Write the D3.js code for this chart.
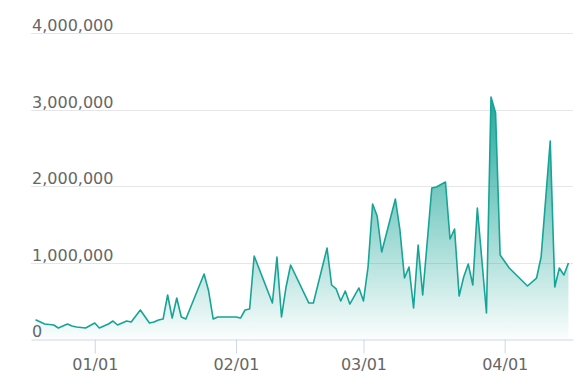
<!DOCTYPE html>
<html>
<head>
<meta charset="utf-8">
<script src="https://cdn.jsdelivr.net/npm/d3@7"></script>
<style>
	body { margin: 0; background: #ffffff; }
	svg { display: block; font-family: "DejaVu Sans", Verdana, sans-serif; }
</style>
</head>
<body>
<div id="chart"></div>
<script>

// daily points (values in units)
var dates = [
	"2018-12-19", "2018-12-21", "2018-12-23", "2018-12-24", "2018-12-26", "2018-12-27", "2018-12-28", "2018-12-30",
	"2019-01-01", "2019-01-02", "2019-01-04", "2019-01-05", "2019-01-06", "2019-01-08", "2019-01-09", "2019-01-11",
	"2019-01-13", "2019-01-14", "2019-01-15", "2019-01-16", "2019-01-17", "2019-01-18", "2019-01-19", "2019-01-20",
	"2019-01-21", "2019-01-25", "2019-01-26", "2019-01-27", "2019-01-28", "2019-02-01", "2019-02-02", "2019-02-03",
	"2019-02-04", "2019-02-05", "2019-02-09", "2019-02-10", "2019-02-11", "2019-02-12", "2019-02-13", "2019-02-17",
	"2019-02-18", "2019-02-21", "2019-02-22", "2019-02-23", "2019-02-24", "2019-02-25", "2019-02-26", "2019-02-28",
	"2019-03-01", "2019-03-02", "2019-03-03", "2019-03-04", "2019-03-05", "2019-03-08", "2019-03-09", "2019-03-10",
	"2019-03-11", "2019-03-12", "2019-03-13", "2019-03-14", "2019-03-16", "2019-03-17", "2019-03-19", "2019-03-20",
	"2019-03-21", "2019-03-22", "2019-03-23", "2019-03-24", "2019-03-25", "2019-03-26", "2019-03-28", "2019-03-29",
	"2019-03-30", "2019-03-31", "2019-04-02", "2019-04-06", "2019-04-08", "2019-04-09", "2019-04-11", "2019-04-12",
	"2019-04-13", "2019-04-14", "2019-04-15"
];

var values = [
	252000, 196000, 183000, 144000, 196000, 170000, 157000, 144000,
	209000, 144000, 196000, 235000, 183000, 235000, 222000, 379000,
	209000, 222000, 248000, 261000, 575000, 274000, 536000, 288000,
	261000, 850000, 627000, 261000, 288000, 288000, 274000, 379000,
	392000, 1085000, 470000, 1072000, 288000, 680000, 967000, 470000,
	470000, 1189000, 706000, 654000, 497000, 627000, 457000, 667000,
	497000, 941000, 1764000, 1608000, 1137000, 1830000, 1425000, 797000,
	941000, 405000, 1229000, 575000, 1974000, 1987000, 2052000, 1307000,
	1438000, 562000, 810000, 980000, 706000, 1712000, 340000, 3163000,
	2954000, 1098000, 928000, 693000, 797000, 1072000, 2588000, 680000,
	928000, 837000, 993000
];

var yTicks = [0, 1000000, 2000000, 3000000, 4000000];
var xTicks = ["2019-01-01", "2019-02-01", "2019-03-01", "2019-04-01"];
var xDomain = ["2018-12-18", "2019-04-16"];

function drawChart(){

	var width = 588,
	    height = 388,
	    left = 31,
	    right = 573,
	    top = 33,
	    bottom = 339;

	var parse = d3.timeParse("%Y-%m-%d");
	var data = dates.map(function(d, i) { return { date: parse(d), value: values[i] }; });

	var svg = d3.select("#chart").append("svg")
		.attr("width", width)
		.attr("height", height);

	var x = d3.scaleTime()
		.domain(xDomain.map(parse))
		.range([left, right]);

	var y = d3.scaleLinear()
		.domain([0, 4000000])
		.range([bottom, top]);

	// fill gradient, strong at the peak, fading to white at zero
	var grad = svg.append("defs").append("linearGradient")
		.attr("id", "fillGrad")
		.attr("gradientUnits", "userSpaceOnUse")
		.attr("x1", 0).attr("x2", 0)
		.attr("y1", y(d3.max(values))).attr("y2", y(0));
	grad.append("stop").attr("offset", 0).attr("stop-color", "#17a497").attr("stop-opacity", 0.95);
	grad.append("stop").attr("offset", 1).attr("stop-color", "#17a497").attr("stop-opacity", 0.02);

	// grid lines
	svg.append("g")
		.selectAll("line")
		.data(yTicks.filter(function(d) { return d > 0; }))
		.enter()
		.append("line")
		.attr("x1", left)
		.attr("x2", right)
		.attr("y1", function(d) { return Math.round(y(d)) + 0.5; })
		.attr("y2", function(d) { return Math.round(y(d)) + 0.5; })
		.attr("stroke", "#e6e6e6")
		.attr("stroke-width", 1);

	// y labels sit above their line, left aligned
	var fmt = d3.format(",");
	svg.append("g")
		.selectAll("text")
		.data(yTicks)
		.enter()
		.append("text")
		.attr("x", left + 1)
		.attr("y", function(d) { return Math.round(y(d)) - 2; })
		.attr("font-size", "16px")
		.attr("fill", "#666666")
		.text(function(d) { return fmt(d); });

	var area = d3.area()
		.x(function(d) { return x(d.date); })
		.y0(y(0))
		.y1(function(d) { return y(d.value); });

	var line = d3.line()
		.x(function(d) { return x(d.date); })
		.y(function(d) { return y(d.value); });

	svg.append("path")
		.datum(data)
		.attr("d", area)
		.attr("fill", "url(#fillGrad)");

	svg.append("path")
		.datum(data)
		.attr("d", line)
		.attr("fill", "none")
		.attr("stroke", "#17a497")
		.attr("stroke-width", 1.6)
		.attr("stroke-linejoin", "round");

	// x axis
	var xAxis = d3.axisBottom(x)
		.tickValues(xTicks.map(parse))
		.tickFormat(d3.timeFormat("%m/%d"))
		.tickSize(14)
		.tickPadding(5)
		.tickSizeOuter(0);

	var gx = svg.append("g")
		.attr("transform", "translate(0," + (bottom + 0.5) + ")")
		.call(xAxis);

	gx.select(".domain").attr("stroke", "#ccd6eb");
	gx.selectAll(".tick line").attr("stroke", "#ccd6eb");
	gx.selectAll(".tick text")
		.attr("font-size", "16px")
		.attr("font-family", "DejaVu Sans, Verdana, sans-serif")
		.attr("fill", "#666666");
};

drawChart();

</script>
</body>
</html>
